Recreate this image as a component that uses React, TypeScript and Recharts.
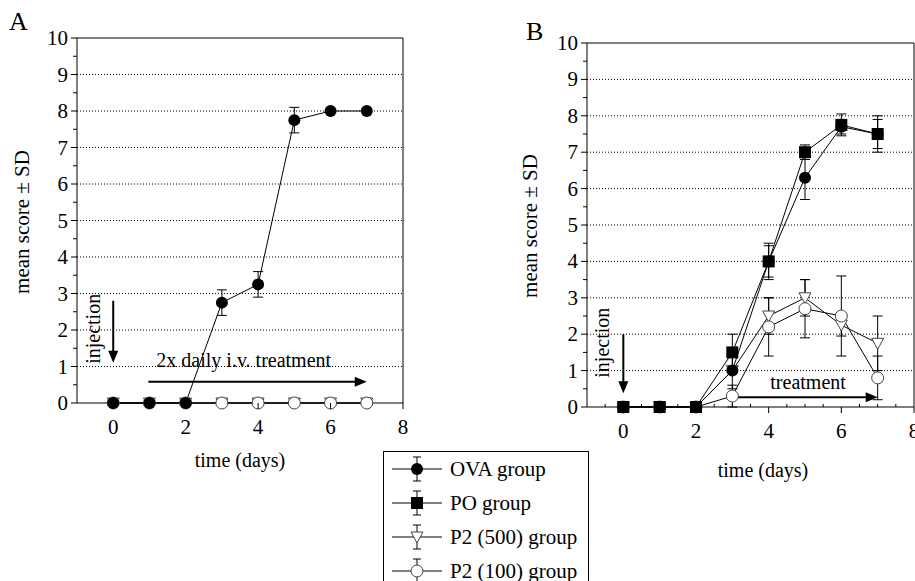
import React from 'react';
import { LineChart, Line, XAxis, YAxis, ErrorBar, ReferenceLine } from 'recharts';

const days = [0, 1, 2, 3, 4, 5, 6, 7];

// panel A
const ovaA = [0, 0, 0, 2.75, 3.25, 7.75, 8, 8];
const ovaAErr = [null, null, null, 0.35, 0.35, 0.35, null, null];
const p500A = [0, 0, 0, 0, 0, 0, 0, 0];
const p100A = [0, 0, 0, 0, 0, 0, 0, 0];

// panel B
const ovaB = [0, 0, 0, 1.0, 4.0, 6.3, 7.7, 7.5];
const ovaBErr = [null, null, null, 0.5, 0.43, 0.6, 0.2, 0.4];
const poB = [0, 0, 0, 1.5, 4.0, 7.0, 7.75, 7.5];
const poBErr = [null, null, null, 0.5, 0.5, 0.2, 0.3, 0.5];
const p500B = [0, 0, 0, 1.0, 2.5, 3.0, 2.25, 1.75];
const p500BErr = [null, null, null, null, 0.5, 0.5, 0.3, 0.75];
const p100B = [0, 0, 0, 0.3, 2.2, 2.7, 2.5, 0.8];
const p100BErr = [null, null, null, 0.3, 0.8, 0.8, 1.1, 0.6];

const yTicks = [0, 0.5, 1, 1.5, 2, 2.5, 3, 3.5, 4, 4.5, 5, 5.5, 6, 6.5, 7, 7.5, 8, 8.5, 9, 9.5, 10];
const gridValues = [1, 2, 3, 4, 5, 6, 7, 8, 9];
const xTicksA = [0, 2, 4, 6, 8];
const xTicksB = [-0.5, 0, 0.5, 1, 1.5, 2, 2.5, 3, 3.5, 4, 4.5, 5, 5.5, 6, 6.5, 7, 7.5, 8];

const legendNames = ['OVA group', 'PO group', 'P2 (500) group', 'P2 (100) group'];
const legendKinds = ['filledCircle', 'square', 'triangle', 'openCircle'];

const FONT = '"Liberation Serif", "Times New Roman", serif';

const dataA = days.map((d, i) => ({
  day: d, ova: ovaA[i], ovaErr: ovaAErr[i], p500: p500A[i], p100: p100A[i],
}));

const dataB = days.map((d, i) => ({
  day: d,
  ova: ovaB[i], ovaErr: ovaBErr[i],
  po: poB[i], poErr: poBErr[i],
  p500: p500B[i], p500Err: p500BErr[i],
  p100: p100B[i], p100Err: p100BErr[i],
}));

const Marker = ({ kind, cx, cy }: any) => {
  if (cx == null || cy == null) return null;
  switch (kind) {
    case 'filledCircle':
      return <circle cx={cx} cy={cy} r={6} fill="#000" />;
    case 'square':
      return <rect x={cx - 6} y={cy - 6} width={12} height={12} fill="#000" />;
    case 'triangle':
      return <path d={`M${cx - 6},${cy - 5} L${cx + 6},${cy - 5} L${cx},${cy + 6} Z`} fill="#fff" stroke="#444" strokeWidth={1} />;
    default:
      return <circle cx={cx} cy={cy} r={6} fill="#fff" stroke="#444" strokeWidth={1} />;
  }
};

const dotOf = (kind: string) => (p: any) => <Marker key={p.index} kind={kind} cx={p.cx} cy={p.cy} />;

const LeftYTick = (props: any) => {
  const { x, y, payload } = props;
  const major = Number.isInteger(payload.value);
  return (
    <g>
      <line x1={x - (major ? 6 : 4)} x2={x} y1={y} y2={y} stroke="#000" />
      {major && (
        <text x={x - 9} y={y + 7} textAnchor="end" fontSize={21} style={{ fontFamily: FONT }} fill="#000">
          {payload.value}
        </text>
      )}
    </g>
  );
};

const RightYTick = (props: any) => {
  const { x, y, payload } = props;
  const major = Number.isInteger(payload.value);
  return <line x1={x - (major ? 2 : 0)} x2={x + (major ? 7 : 4)} y1={y} y2={y} stroke="#000" />;
};

const BottomTick = (props: any) => {
  const { x, y, payload } = props;
  const v = payload.value;
  const major = v >= 0 && v % 2 === 0;
  return (
    <g>
      {major ? (
        <line x1={x} x2={x} y1={y} y2={y + 6} stroke="#000" />
      ) : (
        <line x1={x} x2={x} y1={y} y2={y - 3} stroke="#000" />
      )}
      {major && (
        <text x={x} y={y + 31} textAnchor="middle" fontSize={21} style={{ fontFamily: FONT }} fill="#000">
          {v}
        </text>
      )}
    </g>
  );
};

// arrow with its text; offsets are in pixels from the arrow
const arrowShape = (label: string, vertical: boolean, dx: number, dy: number, anchor: string) => (props: any) => {
  const { x1, y1, x2, y2 } = props;
  let head;
  if (vertical) {
    head = `M${x2 - 5},${y2 - 12} L${x2 + 5},${y2 - 12} L${x2},${y2} Z`;
  } else {
    head = `M${x2 - 12},${y2 - 5} L${x2 - 12},${y2 + 5} L${x2},${y2} Z`;
  }
  const mx = (x1 + x2) / 2;
  const my = (y1 + y2) / 2;
  return (
    <g>
      <line x1={x1} y1={y1} x2={vertical ? x2 : x2 - 10} y2={vertical ? y2 - 10 : y2} stroke="#000" strokeWidth={2} />
      <path d={head} fill="#000" />
      {vertical ? (
        <text
          x={x1 + dx}
          y={my + dy}
          transform={`rotate(-90 ${x1 + dx} ${my + dy})`}
          textAnchor="middle"
          fontSize={20}
          style={{ fontFamily: FONT }}
          fill="#000"
        >
          {label}
        </text>
      ) : (
        <text x={(anchor === 'start' ? x1 : mx) + dx} y={y1 + dy} textAnchor={anchor} fontSize={20} style={{ fontFamily: FONT }} fill="#000">
          {label}
        </text>
      )}
    </g>
  );
};

const PanelA = () => (
  <LineChart width={420} height={490} data={dataA} margin={{ top: 38, right: 0, bottom: 47, left: 27 }}>
    <XAxis
      type="number"
      dataKey="day"
      domain={[-1, 8]}
      ticks={xTicksA}
      tick={<BottomTick />}
      tickLine={false}
      tickSize={0}
      tickMargin={0}
      height={40}
      axisLine={{ stroke: '#000' }}
    />
    <YAxis
      domain={[0, 10]}
      ticks={yTicks}
      tick={<LeftYTick />}
      tickLine={false}
      tickSize={0}
      tickMargin={0}
      width={50}
      axisLine={{ stroke: '#000' }}
      interval={0}
    />
    <YAxis
      yAxisId="r"
      orientation="right"
      domain={[0, 10]}
      ticks={yTicks}
      tick={<RightYTick />}
      tickLine={false}
      tickSize={0}
      tickMargin={0}
      width={17}
      axisLine={{ stroke: '#000' }}
      interval={0}
    />
    {gridValues.map((v) => (
      <ReferenceLine key={v} y={v} stroke="#000" strokeDasharray="1 2" />
    ))}
    <ReferenceLine y={10} stroke="#000" />
    <ReferenceLine
      segment={[{ x: 0, y: 2.8 }, { x: 0, y: 1.1 }]}
      shape={arrowShape('injection', true, -13, -3, 'middle')}
    />
    <ReferenceLine
      segment={[{ x: 0.97, y: 0.58 }, { x: 7, y: 0.58 }]}
      shape={arrowShape('2x daily i.v. treatment', false, 8, -15, 'start')}
    />
    <Line dataKey="p500" stroke="#000" strokeWidth={1} dot={dotOf('triangle')} activeDot={false} isAnimationActive={false} />
    <Line dataKey="p100" stroke="#000" strokeWidth={1} dot={dotOf('openCircle')} activeDot={false} isAnimationActive={false} />
    <Line dataKey="ova" stroke="#000" strokeWidth={1} dot={dotOf('filledCircle')} activeDot={false} isAnimationActive={false}>
      <ErrorBar dataKey="ovaErr" width={5} stroke="#000" strokeWidth={1} direction="y" />
    </Line>
  </LineChart>
);

const PanelB = () => (
  <LineChart width={415} height={490} data={dataB} margin={{ top: 43, right: 1, bottom: 43, left: 37 }}>
    <XAxis
      type="number"
      dataKey="day"
      domain={[-1, 8]}
      ticks={xTicksB}
      tick={<BottomTick />}
      tickLine={false}
      tickSize={0}
      tickMargin={0}
      height={40}
      axisLine={{ stroke: '#000' }}
      interval={0}
    />
    <YAxis
      domain={[0, 10]}
      ticks={yTicks}
      tick={<LeftYTick />}
      tickLine={false}
      tickSize={0}
      tickMargin={0}
      width={50}
      axisLine={{ stroke: '#000' }}
      interval={0}
    />
    {gridValues.map((v) => (
      <ReferenceLine key={v} y={v} stroke="#000" strokeDasharray="1 2" />
    ))}
    <ReferenceLine y={10} stroke="#000" />
    <ReferenceLine x={8} stroke="#000" />
    <ReferenceLine
      segment={[{ x: 0, y: 2.0 }, { x: 0, y: 0.38 }]}
      shape={arrowShape('injection', true, -14, -21, 'middle')}
    />
    <ReferenceLine
      segment={[{ x: 2.95, y: 0.27 }, { x: 7, y: 0.27 }]}
      shape={arrowShape('treatment', false, 4, -8, 'middle')}
    />
    <Line dataKey="p500" stroke="#000" strokeWidth={1} dot={dotOf('triangle')} activeDot={false} isAnimationActive={false}>
      <ErrorBar dataKey="p500Err" width={5} stroke="#000" strokeWidth={1} direction="y" />
    </Line>
    <Line dataKey="p100" stroke="#000" strokeWidth={1} dot={dotOf('openCircle')} activeDot={false} isAnimationActive={false}>
      <ErrorBar dataKey="p100Err" width={5} stroke="#000" strokeWidth={1} direction="y" />
    </Line>
    <Line dataKey="ova" stroke="#000" strokeWidth={1} dot={dotOf('filledCircle')} activeDot={false} isAnimationActive={false}>
      <ErrorBar dataKey="ovaErr" width={5} stroke="#000" strokeWidth={1} direction="y" />
    </Line>
    <Line dataKey="po" stroke="#000" strokeWidth={1} dot={dotOf('square')} activeDot={false} isAnimationActive={false}>
      <ErrorBar dataKey="poErr" width={5} stroke="#000" strokeWidth={1} direction="y" />
    </Line>
  </LineChart>
);

const LegendBox = () => (
  <div
    style={{
      position: 'absolute',
      left: 383,
      top: 451,
      width: 204,
      height: 140,
      border: '1px solid #000',
      background: '#fff',
      fontFamily: FONT,
      fontSize: 21,
    }}
  >
    {legendNames.map((name, i) => (
      <div key={name} style={{ position: 'absolute', left: 8, top: 2 + i * 34, height: 30, display: 'flex', alignItems: 'center' }}>
        <svg width={54} height={30}>
          <line x1={0} x2={50} y1={15} y2={15} stroke="#000" />
          <line x1={25} x2={25} y1={3} y2={27} stroke="#000" />
          <line x1={21} x2={29} y1={3} y2={3} stroke="#000" />
          <line x1={21} x2={29} y1={27} y2={27} stroke="#000" />
          <Marker kind={legendKinds[i]} cx={25} cy={15} />
        </svg>
        <span style={{ marginLeft: 4, whiteSpace: 'nowrap' }}>{name}</span>
      </div>
    ))}
  </div>
);

const App = () => (
  <div style={{ position: 'absolute', left: 0, top: 0, width: 915, height: 581, overflow: 'hidden', background: '#fff' }}>
    <div style={{ position: 'absolute', left: 0, top: 0 }}>
      <PanelA />
    </div>
    <div style={{ position: 'absolute', left: 500, top: 0 }}>
      <PanelB />
    </div>
    <svg width={915} height={581} style={{ position: 'absolute', left: 0, top: 0, pointerEvents: 'none' }}>
      <g style={{ fontFamily: FONT }} fill="#000">
        <text x={9} y={30} fontSize={26}>A</text>
        <text x={526} y={40} fontSize={26}>B</text>
        <text x={29} y={222} fontSize={21} textAnchor="middle" transform="rotate(-90 29 222)">mean score ± SD</text>
        <text x={537} y={226} fontSize={21} textAnchor="middle" transform="rotate(-90 537 226)">mean score ± SD</text>
        <text x={240} y={467} fontSize={20} textAnchor="middle">time (days)</text>
        <text x={763} y={477} fontSize={20} textAnchor="middle">time (days)</text>
      </g>
    </svg>
    <LegendBox />
  </div>
);

export default App;
